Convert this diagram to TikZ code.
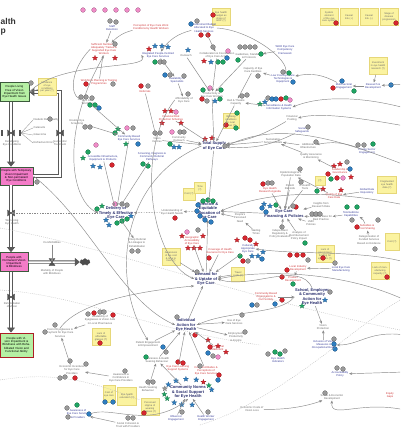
\documentclass[tikz,border=0pt]{standalone}
\usepackage{fontspec}
\setmainfont{Liberation Sans}
\usetikzlibrary{arrows.meta, positioning, shapes.geometric, shapes.symbols}
\definecolor{navy}{HTML}{2A2F6E}
\definecolor{txtgray}{HTML}{6A6A6A}
\definecolor{txtblue}{HTML}{3B419C}
\definecolor{txtred}{HTML}{D0393B}
\definecolor{cred}{HTML}{D7262E}
\definecolor{cblue}{HTML}{2E7DC0}
\definecolor{cgreen}{HTML}{1FA463}
\definecolor{cgray}{HTML}{9A9A9A}
\definecolor{cpink}{HTML}{F08CC8}
\definecolor{notefill}{HTML}{FBF3A0}
\definecolor{noteedge}{HTML}{E6D779}
\definecolor{boxgreen}{HTML}{B6F0A4}
\definecolor{boxpink}{HTML}{F47CC8}
\definecolor{stockedge}{HTML}{3C5A3C}
\definecolor{linkgray}{HTML}{8A8A8A}
\tikzset{
    ttl/.style={font=\fontsize{8.5}{9}\selectfont\bfseries, text=black!80, inner sep=0pt},
    hub/.style={font=\fontsize{4}{4.4}\selectfont\bfseries, text=navy, align=center, inner sep=0.5pt},
    lbl/.style={font=\fontsize{2.7}{3.1}\selectfont, text=txtgray, align=center, inner sep=0.5pt},
    blbl/.style={lbl, text=txtblue},
    rlbl/.style={lbl, text=txtred},
    note/.style={draw=noteedge, fill=notefill, font=\fontsize{2.5}{2.9}\selectfont, text=txtgray,
        align=center, text width=15pt, minimum width=18pt, minimum height=17pt, inner sep=0.6pt},
    stockgreen/.style={draw=stockedge, fill=boxgreen, line width=0.7pt,
        font=\fontsize{2.9}{3.3}\selectfont, align=center, inner sep=0.6pt},
    stockpink/.style={stockgreen, fill=boxpink},
    stockdone/.style={stockgreen, draw=cred!80!black, line width=0.9pt},
    link/.style={-{Stealth[length=3.2pt, width=2.6pt]}, draw=linkgray, line width=0.45pt},
    dlink/.style={link, dash pattern=on 1.3pt off 1.3pt},
    faint/.style={draw=linkgray!60, line width=0.4pt, dash pattern=on 0.8pt off 1.2pt},
    pipe/.style={draw=gray!70!black, double=white, double distance=1.5pt, line width=0.8pt,
        -{Triangle[length=5pt, width=8pt]}},
    starmk/.style={star, star points=5, star point ratio=2.3, inner sep=0pt, minimum size=5.4pt,
        draw=#1!70!black, line width=0.2pt, fill=#1},
    valve/.pic={\filldraw[fill=gray!65!black, draw=black!75, line width=0.3pt]
        (-3.5,-3) -- (-3.5,3) -- (3.5,-3) -- (3.5,3) -- cycle;},
}
\newcommand{\mkdot}[3]{\filldraw[fill=#1, draw=#1!60!black, line width=0.2pt] (#2,#3) circle (2.4);}
\newcommand{\mkstar}[3]{\node[starmk=#1] at (#2,#3) {};}

\begin{document}
\begin{tikzpicture}[x=1pt, y=-1pt]
    \useasboundingbox[fill=white] (0,0) rectangle (400,440);
    \clip (0,0) rectangle (400,440);

    % Pavadinimas ir legenda
    \node[ttl, anchor=west] (ttl1) at (0.5,21) {alth};
    \node[ttl, anchor=west] (ttl2) at (0.5,32) {p};
    \foreach \x in {83,94,...,138} {\mkdot{cpink}{\x}{10}}
    \node[note] (key1) at (329,17) {System element of the eye care system};
    \node[note] (key2) at (349,17) {Causal link (+)};
    \node[note] (key3) at (369,17) {Causal link (--)};
    \node[note] (key4) at (389,17) {Stage of disease progression};
    \mkdot{cred}{336}{23} \mkdot{cred}{396}{23}
    \node[note] (budnote) at (221,17) {Eye health budget as share of GDP (?)};
    \mkdot{cred}{213}{15}

    % Atsargos ir srautai
    \node[stockgreen, minimum width=29pt, minimum height=19pt, text width=26pt] (free) at (14.5,92)
        {People Living Free of Vision Impairment from Eye Health Issues};
    \node[stockpink, minimum width=33pt, minimum height=18pt, text width=30pt] (tempvi) at (16.5,176)
        {People with Temporary Vision Impairment \& Non-permanent Eye Conditions};
    \node[stockpink, minimum width=28pt, minimum height=19pt, text width=25pt] (permvi) at (14,262)
        {People with Permanent Vision Impairment \& Blindness};
    \node[stockdone, minimum width=33pt, minimum height=24pt, text width=30pt] (rehab) at (16.5,345)
        {People with Vision Impairment \& Blindness with Rehabilitated Vision and Functional Ability};
    \node[cloud, cloud puffs=7, fill=gray!60!black, draw=gray!60!black, minimum width=10pt,
        minimum height=7pt, inner sep=0pt] (sink) at (85,262) {};
    \coordinate (rc1) at (60,176);
    \coordinate (rc2) at (60,92);
    \coordinate (v1) at (11,133);
    \coordinate (v1r) at (60,133);
    \coordinate (v2) at (11,213);
    \coordinate (v3) at (52,262);
    \coordinate (v4) at (11,297);
    \draw[pipe] (free.south -| v1) -- (tempvi.north -| v1);
    \draw[pipe] (tempvi.east) -- (rc1) -- (rc2) -- (free.east);
    \draw[pipe] (tempvi.south -| v1) -- (permvi.north -| v1);
    \draw[pipe] (permvi.east) -- (sink.west);
    \draw[pipe] (permvi.south -| v1) -- (rehab.north -| v1);
    \foreach \v in {v1,v1r,v2,v4} {\pic at (\v) {valve};}
    \pic[rotate=90] at (v3) {valve};
    \fill[gray!65!black] (1,130) rectangle (3,136);
    \fill[gray!65!black] (19,130) rectangle (21,136);
    \node[note] (incid) at (47,87) {Incidence of eye conditions per year (?)};
    \mkdot{cgray}{31}{83}
    \node[lbl] (v1l) at (12,143) {Developing\\Eye Conditions};
    \node[lbl] (v1rl) at (60,143) {Successful\\Treatment};
    \node[lbl] (v2l) at (12,222) {Worsening\\Eye Health};
    \node[lbl] (v3l) at (52,272) {Mortality of People\\with Blindness};
    \node[lbl] (v4l) at (12,305) {Rehabilitation\\of Vision};
    \node[lbl] (comorb) at (52,243) {Co-Morbidities};
    \mkdot{cgray}{37}{182}
    \foreach \nm/\yy/\tx in {c1/120/Diabetic Retinopathy, c2/128/Cataracts, c3/135/Glaucoma, c4/143/Refractive Errors} {
        \node[lbl, anchor=west] (\nm) at (33,\yy) {\tx};
        \draw[linkgray, line width=0.3pt] (v1) ++(10,0) -- (\nm.west);
    }
    \mkdot{cgray}{50}{119}

    % Pagrindiniai mazgai
    \node[hub] (deliv) at (116,213) {Delivery of\\Timely \& Effective\\Eye Care};
    \node[hub] (supply) at (214,146) {Total Supply\\of Eye Care};
    \node[hub] (alloc) at (208,211) {Effective \&\\Equitable\\Allocation of\\Eye Care};
    \node[hub] (demand) at (206,279) {Demand for\\\& Uptake of\\Eye Care};
    \node[hub] (indiv) at (186,325) {Individual\\Action for\\Eye Health};
    \node[hub] (school) at (312,297) {School, Employer\\\& Community\\Action for\\Eye Health};
    \node[hub] (comm) at (188,392) {Community Norms\\\& Social Support\\for Eye Health};
    \node[hub] (policy) at (284,214) {Eye Care\\Financing \& Policies};

    % Darbuotojai
    \node[blbl] (retain) at (112,28) {Staff\\Retention};
    \mkdot{cgray}{110}{21} \mkdot{cgray}{116}{22}
    \node[rlbl] (perf) at (151,27) {Perception of Eye Care Work\\Conditions by Health Workers};
    \node[rlbl] (numbers) at (104,49) {Sufficient Numbers of\\Adequately Trained \&\\Supported Eye Care\\Workers};
    \mkstar{cred}{95}{58} \mkstar{cred}{115}{58} \mkdot{cgray}{115}{44}
    \node[rlbl] (plan) at (99,82) {Workforce Planning \& Training\\Programmes};
    \mkdot{cred}{86}{84} \mkdot{cgray}{113}{84}
    \node[lbl] (wf) at (88,102) {Eye Care\\Workforce};
    \mkdot{cgray}{81}{97} \mkdot{cgray}{86}{97} \mkdot{cgray}{92}{98}
    \mkdot{cgreen}{90}{105} \mkdot{cgreen}{95}{105} \mkdot{cblue}{99}{108}
    \node[lbl] (scr) at (77,122) {Routine Eye\\Screening};
    \mkdot{cgray}{85}{127} \mkdot{cgray}{90}{127}
    \node[blbl] (integ) at (129,138) {Community-Based\\Eye Care Services};
    \mkstar{cgreen}{118}{129} \mkdot{cgreen}{115}{133} \mkdot{cpink}{127}{128} \mkdot{cgray}{133}{128}
    \mkstar{cgreen}{126}{144} \mkdot{cblue}{138}{144}
    \node[blbl] (infra) at (103,158) {Accessible Infrastructure,\\Equipment \& Products};
    \mkstar{cgreen}{83}{158} \mkdot{cgreen}{88}{152} \mkdot{cpink}{96}{145}
    \mkstar{cblue}{93}{166} \mkstar{cblue}{100}{167} \mkdot{cred}{112}{165}
    \node[blbl] (screen) at (152,157) {Screening, Diagnosis \&\\Community Referral\\Pathways};
    \mkdot{cgreen}{143}{164} \mkdot{cgreen}{148}{166}

    % Pasiula
    \node[blbl] (budget) at (204,28) {Government Budget\\Allocated to Eye\\Health Services};
    \mkdot{cblue}{191}{24} \mkdot{cgray}{197}{21} \mkdot{cred}{201}{35} \mkdot{cred}{208}{35}
    \node[blbl] (qual) at (158,55) {Integrated People-Centred\\Eye Care Services};
    \mkstar{cred}{149}{49} \mkstar{cblue}{155}{46} \mkstar{cblue}{162}{46} \mkstar{cblue}{168}{47}
    \mkdot{cgreen}{155}{62} \mkdot{cgray}{160}{62} \mkdot{cgray}{164}{62}
    \node[lbl] (outr) at (186,56) {Outreach};
    \mkstar{cblue}{188}{50}
    \node[lbl] (coord) at (217,55) {Collaboration \& Coordination\\of Eye Care Actors};
    \mkstar{cred}{204}{61} \mkstar{cblue}{211}{62} \mkdot{cgreen}{218}{62} \mkdot{cgreen}{223}{62}
    \mkdot{cblue}{227}{58} \mkdot{cpink}{228}{51} \mkdot{cgray}{213}{47}
    \node[lbl] (trust) at (249,56) {Guidelines, Standards\\\& Protocols};
    \foreach \x in {240,245,250,255} {\mkdot{cgray}{\x}{47}}
    \mkdot{cgreen}{238}{60} \mkdot{cgreen}{261}{54}
    \node[lbl] (capac) at (253,70) {Capacity of Eye\\Care Facilities};
    \mkdot{cgray}{258}{76}
    \node[blbl] (avsvc) at (177,80) {Availability of\\Specialists};
    \mkdot{cblue}{165}{75} \mkdot{cgray}{170}{75} \mkdot{cgray}{184}{76}
    \node[rlbl] (refer) at (145,92) {Referrals};
    \mkdot{cred}{141}{86} \mkdot{cgray}{148}{86}
    \node[lbl] (afford) at (184,100) {Affordability of\\Eye Care};
    \mkdot{cgray}{188}{94}
    \node[lbl] (prod) at (212,95) {Productivity of\\Eye Care Workers};
    \mkdot{cgreen}{203}{90} \mkdot{cpink}{210}{88} \mkdot{cgreen}{221}{90} \mkdot{cred}{202}{99}
    \mkdot{cgray}{207}{101} \mkstar{cblue}{215}{101} \mkdot{cgreen}{220}{99}
    \node[lbl] (beds) at (236,102) {Bed \& Theatre\\Capacity};
    \mkdot{cgray}{242}{96} \mkdot{cgray}{247}{95}
    \node[rlbl] (finrisk) at (171,118) {Financial Risk\\Protection Schemes};
    \mkstar{cred}{165}{111} \mkstar{cred}{171}{111} \mkstar{cred}{162}{123} \mkstar{cred}{181}{123}
    \mkdot{cpink}{176}{112}
    \node[lbl] (vc) at (157,140) {Vision\\Centres};
    \mkdot{cgray}{155}{133} \mkdot{cgray}{160}{133}
    \node[lbl] (outreach2) at (179,139) {Community\\Outreach};
    \mkdot{cpink}{172}{132} \mkdot{cgray}{180}{132} \mkdot{cgray}{184}{132}
    \mkdot{cgreen}{170}{144} \mkstar{cblue}{174}{147} \mkstar{cblue}{179}{147}
    \mkstar{cred}{205}{139} \mkstar{cred}{212}{138} \mkdot{cgray}{225}{146}
    \node[note, minimum width=16pt, minimum height=15pt, text width=13pt] (wknote) at (231,121) {Working conditions in rural areas (?)};
    \mkdot{cred}{226}{125} \mkdot{cgreen}{237}{113} \mkdot{cgreen}{236}{128}

    % Desine virsus
    \node[blbl] (who) at (285,50) {WHO Eye Care\\Competency\\Framework};
    \node[blbl] (lowcost) at (283,79) {Low Cost Eye Care\\Technologies \&\\Equipment};
    \mkdot{cgray}{283}{72} \mkdot{cgreen}{289}{73} \mkdot{cblue}{293}{82}
    \node[blbl] (multi) at (344,86) {Multi-sectoral\\Engagement};
    \mkdot{cblue}{342}{81} \mkdot{cred}{333}{88} \mkdot{cgreen}{354}{91}
    \node[blbl] (rnd) at (373,86) {Research \&\\Development};
    \mkdot{cblue}{391}{85}
    \node[note] (rndnote) at (378,66) {Investment in eye health research (?)};
    \node[blbl] (surv) at (279,107) {Surveillance \& Health\\Information Systems};
    \mkdot{cgray}{268}{98} \mkdot{cblue}{272}{99} \mkdot{cblue}{276}{99} \mkdot{cred}{281}{99}
    \mkdot{cgreen}{286}{98} \mkdot{cpink}{290}{100} \mkstar{cblue}{265}{102} \mkstar{cgreen}{260}{104}
    \node[lbl] (pool) at (292,118) {Financial\\Pooling};
    \node[blbl] (safeg) at (302,130) {Social\\Safeguards};
    \mkdot{cgray}{308}{127}
    \node[lbl] (sust) at (273,141) {Sustainable\\Service Models};
    \node[lbl] (addfund) at (308,146) {Additional\\Infrastructure};
    \mkdot{cgray}{316}{142}
    \node[blbl] (private) at (367,151) {Private Sector\\Engagement};
    \mkdot{cgray}{358}{145} \mkdot{cgray}{364}{145} \mkdot{cgreen}{373}{144}
    \node[lbl] (qa) at (311,156) {Quality Assurance\\\& Monitoring};
    \node[rlbl] (gov) at (340,171) {Leadership \&\\Governance};
    \mkstar{cred}{334}{166} \mkstar{cred}{340}{164} \mkstar{cred}{351}{177} \mkdot{cred}{328}{174}
    \mkdot{cred}{337}{178} \mkdot{cpink}{343}{178} \mkdot{cgreen}{331}{179} \mkdot{cblue}{350}{169}
    \mkdot{cgray}{347}{162}
    \node[blbl] (gdr) at (367,191) {Global Data\\Repository};
    \node[rlbl] (datq) at (334,196) {Quality of Eye\\Care Data};
    \mkstar{cred}{323}{189} \mkstar{cred}{341}{190} \mkdot{cgreen}{317}{191}
    \node[note, minimum width=19pt, minimum height=17pt] (datnote) at (387,185) {Fragmented eye health data (?)};
    \node[lbl] (epid) at (291,174) {Epidemiological \&\\Population Data};
    \mkdot{cgray}{300}{169}
    \node[rlbl] (agenda) at (270,190) {Eye Health\\Research Agenda};
    \mkdot{cred}{263}{184} \mkdot{cgray}{268}{183} \mkdot{cgray}{272}{183}
    \node[lbl] (pple) at (290,187) {Patient\\Records};
    \node[lbl] (ehr) at (305,187) {E-Health\\Tools};
    \mkdot{cgray}{301}{182}
    \node[note, minimum width=10pt, minimum height=9pt, text width=8pt] (smnote) at (320,181) {(?)};
    \node[lbl] (insights) at (321,205) {Insights from\\Research Data};
    \mkdot{cred}{296}{207}
    \node[lbl] (evid) at (321,218) {Evidence Base for\\Best Practice};
    \mkdot{cgray}{312}{214} \mkdot{cgray}{316}{214} \mkdot{cgray}{320}{214}
    \node[blbl] (tele) at (351,214) {Telemedicine\\Capabilities};
    \mkdot{cgreen}{347}{207} \mkdot{cgreen}{357}{207} \mkdot{cgray}{352}{220}
    \mkdot{cblue}{262}{208} \mkdot{cblue}{266}{212} \mkstar{cblue}{264}{204} \mkstar{cblue}{270}{206}
    \mkdot{cgreen}{276}{205} \mkdot{cgray}{293}{206}
    \node[lbl] (indep) at (280,234) {Independent\\Regulatory \&\\Policy Evaluation};
    \mkdot{cgray}{282}{227}
    \node[lbl] (analys) at (299,236) {Analysis of\\Reimbursement\\Policy Impact};
    \mkdot{cgreen}{305}{243}
    \node[lbl] (lmic) at (311,223) {LMIC\\Policies};
    \node[rlbl] (subs) at (367,227) {Subsidies \&\\Cost Sharing};
    \mkdot{cred}{357}{227} \mkdot{cgray}{378}{220}
    \node[lbl] (categ) at (369,240) {Categorisation of\\Funded Services\\Based on Evidence};
    \mkdot{cgray}{375}{249}
    \node[note, minimum width=14pt, minimum height=17pt, text width=11pt] (edgenote) at (392,242) {Cost (?)};

    % Vietine pramone
    \node[note] (fundnote) at (325,254) {Lack of government funding for eye care (?)};
    \mkdot{cred}{323}{258}
    \mkdot{cred}{290}{255} \mkdot{cred}{297}{255} \mkdot{cred}{303}{255} \mkdot{cgray}{308}{260}
    \node[rlbl] (local) at (298,268) {Local Industry\\Development};
    \mkdot{cred}{287}{270}
    \node[blbl] (manuf) at (341,269) {Local Eye Care\\Manufacturing};
    \mkdot{cgray}{335}{263}
    \node[note] (mannote) at (380,271) {Lack of manufacturing capacity (?)};
    \mkdot{cred}{387}{277}
    \node[rlbl] (proddev) at (293,279) {Product\\Development};
    \mkdot{cred}{282}{277} \mkdot{cgreen}{293}{284}

    % Paklausa
    \node[lbl] (under) at (172,212) {Understanding of\\Eye Health Needs};
    \mkdot{cred}{175}{218}
    \node[note, minimum width=12pt, minimum height=12pt, text width=10pt] (nc1) at (189,194) {Cost (?)};
    \node[note, minimum width=11pt, minimum height=11pt, text width=9pt] (nc2) at (200,188) {Time (?)};
    \mkdot{cgreen}{203}{201} \mkdot{cgreen}{208}{200} \mkdot{cgreen}{213}{201}
    \mkdot{cblue}{198}{205} \mkdot{cblue}{197}{211} \mkdot{cblue}{200}{216} \mkdot{cblue}{205}{220} \mkdot{cblue}{211}{222}
    \node[lbl] (refl) at (137,243) {Timely Referral\\\& Linkages to\\Rehabilitation};
    \mkdot{cgray}{132}{251} \mkdot{cgray}{138}{251}
    \mkdot{cgreen}{97}{209} \mkstar{cgreen}{102}{206} \mkstar{cblue}{106}{220} \mkstar{cblue}{109}{225}
    \mkdot{cgreen}{117}{223} \mkdot{cgreen}{122}{221} \mkdot{cgreen}{127}{219} \mkstar{cblue}{131}{216}
    \mkdot{cpink}{115}{204} \mkdot{cgray}{122}{204} \mkdot{cgray}{127}{205}
    \node[rlbl] (access) at (192,241) {Geographic\\Accessibility\\of Eye Care};
    \mkstar{cred}{182}{236} \mkstar{cred}{188}{248} \mkstar{cred}{194}{248} \mkstar{cred}{200}{248}
    \mkstar{cred}{203}{236} \mkdot{cpink}{187}{232} \mkdot{cgray}{198}{230}
    \node[rlbl] (hins) at (220,251) {Coverage of Health\\Insurance for Eye Care};
    \mkdot{cred}{209}{258}
    \node[note] (awaren) at (171,257) {Awareness of the cost \& time to treat (?)};
    \node[note, minimum width=13pt, minimum height=14pt, text width=11pt] (trav) at (238,274) {Travel costs (?)};
    \node[lbl] (percv) at (240,218) {People's\\Perceived\\Need};
    \node[lbl] (wait) at (256,232) {Waiting\\Times};
    \node[blbl] (cult) at (248,249) {Culturally\\Appropriate\\Eye Care};
    \mkstar{cred}{237}{240} \mkdot{cred}{245}{238} \mkdot{cred}{250}{240} \mkstar{cred}{256}{244}
    \mkstar{cblue}{252}{256} \mkstar{cblue}{258}{256} \mkstar{cblue}{263}{252} \mkdot{cgreen}{240}{256}
    \mkdot{cred}{243}{261} \mkdot{cgray}{248}{261} \mkdot{cblue}{262}{259}
    \mkdot{cgray}{197}{272}

    % Individualus veiksmai
    \mkdot{cgray}{177}{317} \mkdot{cred}{195}{335}
    \node[lbl] (peng) at (148,344) {Patient Engagement\\\& Empowerment};
    \mkdot{cblue}{163}{347} \mkdot{cgray}{166}{352}
    \node[lbl] (aware) at (157,360) {Awareness \& Health\\Seeking Behaviour};
    \mkdot{cgreen}{146}{357}
    \node[lbl] (hsb) at (148,389) {Health Seeking\\Behaviour};
    \mkdot{cgray}{148}{382} \mkdot{cgray}{153}{382}
    \node[note] (nsb) at (150,407) {Perceived stigma of wearing glasses (?)};
    \mkdot{cred}{144}{413}
    \node[rlbl] (learn) at (178,368) {Eye Care Learning\\Support Systems};
    \mkdot{cred}{178}{362} \mkdot{cred}{183}{363}
    \node[rlbl] (attit) at (206,371) {Cultural Attitudes \&\\Perceptions of\\Eye Care Services};
    \mkdot{cred}{219}{375} \mkdot{cblue}{218}{380} \mkdot{cgray}{200}{366}
    \foreach \a/\c in {80/cblue,105/cblue,125/cblue,150/cgreen,170/cgreen,195/cgray,215/cblue,240/cblue,265/cblue,290/cblue,310/cred,330/cgreen,350/cblue} {
        \node[starmk=\c] at ([shift={(\a:24 and 13)}]comm) {};
    }
    \node[blbl] (infl) at (176,418) {Influencer\\Engagement};
    \mkdot{cgray}{182}{412}
    \node[blbl] (hwe) at (206,418) {Health Worker\\Engagement};
    \mkdot{cgray}{208}{412}
    \node[lbl] (use) at (234,322) {Use of Eye\\Care Services};
    \mkdot{cgray}{242}{315}
    \node[lbl] (empl) at (236,337) {Employment,\\Productivity\\\& Income};
    \mkdot{cgray}{245}{332}
    \node[rlbl] (edu) at (217,348) {Educational\\Attainment};
    \mkstar{cred}{208}{340} \mkstar{cred}{218}{346} \mkstar{cred}{226}{352} \mkdot{cred}{210}{347}
    \mkdot{cblue}{208}{353} \mkdot{cgray}{213}{356} \mkdot{cpink}{218}{357}
    \node[rlbl] (comm2) at (266,297) {Community-Based\\Organisations \&\\Civil Society};
    \mkdot{cblue}{252}{305} \mkdot{cgray}{257}{305} \mkdot{cred}{282}{300} \mkdot{cblue}{275}{304}
    \mkstar{cblue}{325}{300} \mkstar{cgreen}{302}{306} \mkdot{cgray}{330}{292}
    \node[lbl] (vprot) at (323,327) {Vision\\Protection};
    \node[blbl] (occ) at (324,345) {Inclusion of Vision\\Measures in\\Occupational Health};
    \mkdot{cgray}{334}{339} \mkdot{cblue}{334}{344} \mkdot{cblue}{335}{349}
    \node[blbl] (ind) at (278,360) {Eye Health\\Indicators};
    \mkdot{cgray}{268}{354} \mkdot{cgreen}{275}{352} \mkdot{cgreen}{280}{354} \mkdot{cgray}{285}{351}
    \node[blbl] (acct) at (340,374) {Accountability\\Policy};
    \mkdot{cgray}{337}{368} \mkdot{cgray}{343}{369}
    \node[lbl] (socec) at (332,397) {Social \& Economic\\Development};
    \mkdot{cgray}{325}{393}
    \node[lbl] (socdev) at (252,409) {Economic Costs of\\Vision Loss};
    \node[rlbl] (rmark) at (390,395) {Equity\\Gaps};

    % Apacia kaire
    \node[lbl] (glass) at (100,320) {Availability of\\Eyeglasses \& Vision Aids\\in Local Pharmacies};
    \mkdot{cgray}{88}{314} \mkdot{cred}{94}{313} \mkdot{cgray}{100}{312} \mkdot{cgray}{104}{312} \mkdot{cred}{113}{315}
    \node[lbl] (cvis) at (60,333) {Cost of Eyeglasses \&\\Payment for Eye Care\\Services};
    \mkdot{cgray}{45}{332} \mkdot{cgray}{55}{325}
    \node[note] (nglass) at (101,337) {Lack of affordable glasses (?)};
    \mkdot{cred}{100}{343}
    \node[lbl] (econ) at (72,370) {Economic Incentives\\for Eye Care\\Providers};
    \mkdot{cgray}{60}{378} \mkdot{cgray}{65}{377} \mkdot{cred}{75}{378} \mkdot{cgray}{86}{364} \mkdot{cgray}{70}{361}
    \node[lbl] (confid) at (121,378) {Awareness \&\\Confidence in\\Eye Care Providers};
    \mkdot{cgray}{125}{371}
    \node[note, minimum width=12pt, text width=10pt] (ncost) at (109,394) {Cost of eye care};
    \node[note, minimum width=19pt, minimum height=18pt] (nedu) at (127,396) {Eye health education (?)};
    \mkdot{cblue}{105}{402} \mkdot{cblue}{113}{402}
    \node[blbl] (awsvc) at (78,414) {Awareness of\\Eye Care Services\\\& Providers};
    \mkdot{cgreen}{77}{405} \mkdot{cblue}{89}{414} \mkdot{cgray}{67}{408} \mkdot{cgray}{68}{417}
    \node[lbl] (trustp) at (128,425) {Social Cohesion \&\\Trust with Providers};
    \mkdot{cgray}{128}{418} \mkdot{cgray}{133}{418}

    % Ryšiai tarp veiksnių
    \coordinate (e1) at (405,84);
    \coordinate (e2) at (405,108);
    \coordinate (e3) at (405,126);
    \coordinate (e4) at (405,165);
    \coordinate (e5) at (405,205);
    \coordinate (e6) at (405,262);
    \coordinate (e7) at (405,300);
    \coordinate (e8) at (405,335);
    \coordinate (e9) at (405,372);
    \coordinate (e10) at (405,410);
    \draw[link] (incid) -- (free.east);
    \draw[link] (comorb) -- (v3);
    \draw[link] (retain) -- (numbers);
    \draw[link] (perf) to[bend right=15] (numbers);
    \draw[link] (plan) -- (numbers);
    \draw[link] (numbers.west) .. controls (70,70) and (70,95) .. (wf);
    \draw[link] (wf) -- (integ);
    \draw[link] (scr) -- (integ);
    \draw[link] (integ) -- (deliv);
    \draw[link] (infra) -- (deliv);
    \draw[link] (screen) -- (deliv);
    \draw[link] (numbers.south) .. controls (60,130) and (70,200) .. (deliv.west);
    \draw[link] (budget) to[bend right=20] (qual);
    \draw[link] (budget) -- (coord);
    \draw[link] (budget.east) .. controls (250,30) and (290,60) .. (lowcost);
    \draw[link] (qual) -- (avsvc);
    \draw[link] (outr) -- (prod);
    \draw[link] (coord) -- (prod);
    \draw[link] (trust) -- (prod);
    \draw[link] (capac) -- (beds);
    \draw[link] (prod) -- (supply);
    \draw[link] (beds) -- (supply);
    \draw[link] (finrisk) -- (supply);
    \draw[link] (vc) -- (supply);
    \draw[link] (outreach2) -- (supply);
    \draw[link] (avsvc) -- (afford);
    \draw[link] (refer) -- (vc);
    \draw[link] (afford.west) .. controls (135,150) and (150,260) .. (demand.west);
    \draw[link] (who) -- (trust);
    \draw[link] (lowcost) -- (capac);
    \draw[link] (rnd) -- (multi);
    \draw[link] (rndnote) -- (rnd);
    \draw[link] (multi) to[bend right=20] (lowcost);
    \draw[link] (surv) -- (beds);
    \draw[link] (pool) to[bend left=10] (supply);
    \draw[link] (safeg) to[bend left=15] (supply);
    \draw[link] (sust) -- (supply);
    \draw[link] (addfund) -- (sust);
    \draw[link] (private) to[bend right=15] (addfund);
    \draw[link] (qa) -- (sust);
    \draw[link] (gov) -- (qa);
    \draw[link] (gdr) -- (datq);
    \draw[link] (datq) -- (epid);
    \foreach \src in {epid,agenda,pple,ehr,insights,evid,lmic,indep,analys} {
        \draw[link] (\src) -- (policy);
    }
    \draw[link] (tele) -- (evid);
    \draw[link] (subs) to[bend right=20] (tele);
    \draw[link] (categ) -- (subs);
    \draw[link] (policy) -- (alloc);
    \draw[link] (supply) -- (alloc);
    \draw[dlink] (alloc) -- (under);
    \draw[dlink] (under) -- (deliv);
    \draw[dlink] (deliv) -- (v2);
    \draw[link] (deliv) -- (refl);
    \draw[link] (demand) -- (alloc);
    \draw[link] (access) -- (demand);
    \draw[link] (hins) -- (demand);
    \draw[link] (percv) -- (alloc);
    \draw[link] (wait) -- (percv);
    \draw[link] (cult) -- (demand);
    \draw[link] (awaren) -- (demand);
    \draw[link] (trav) -- (demand);
    \draw[link] (local) -- (proddev);
    \draw[link] (manuf) -- (local);
    \draw[link] (indiv) -- (demand);
    \draw[link] (peng) -- (indiv);
    \draw[link] (aware) -- (indiv);
    \draw[link] (learn) -- (indiv);
    \draw[link] (attit) -- (indiv);
    \draw[link] (comm) -- (aware);
    \draw[link] (infl) -- (comm);
    \draw[link] (hwe) -- (comm);
    \draw[link] (hsb) -- (aware);
    \draw[link] (indiv) -- (use);
    \draw[link] (indiv) -- (empl);
    \draw[link] (edu) -- (indiv);
    \draw[link] (school.west) .. controls (280,315) and (230,310) .. (indiv.east);
    \draw[link] (school) -- (vprot);
    \draw[link] (occ) -- (vprot);
    \draw[link] (comm2) -- (school);
    \draw[link] (school.north) .. controls (300,260) and (250,290) .. (demand.east);
    \draw[link] (glass) -- (cvis);
    \draw[link] (econ) -- (cvis);
    \draw[link] (confid) -- (econ);
    \draw[link] (trustp) -- (awsvc);
    \draw[link] (cvis.north) .. controls (80,300) and (150,290) .. (demand.south west);
    \draw[link] (awsvc.east) .. controls (110,405) and (150,430) .. (comm.south);
    \draw[link] (socdev) .. controls (290,410) and (310,405) .. (socec);
    \draw[link] (tempvi.east) .. controls (90,220) and (120,300) .. (indiv.west);
    \draw[link] (free.east) .. controls (60,60) and (150,70) .. (qual.west);
    \draw[link] (supply.west) .. controls (120,180) and (110,280) .. (peng.north);
    % Iš už paveikslo
    \draw[link] (e1) -- (rnd);
    \draw[link] (e2) .. controls (360,96) and (320,96) .. (surv.east);
    \draw[link] (e3) .. controls (360,118) and (320,112) .. (pool.east);
    \draw[link] (e4) .. controls (340,140) and (280,120) .. (supply.east);
    \draw[link] (e5) .. controls (330,190) and (270,190) .. (alloc.east);
    \draw[link] (e6) .. controls (360,250) and (300,255) .. (cult.east);
    \draw[link] (e7) .. controls (340,270) and (260,270) .. (demand.east);
    \draw[link] (e8) .. controls (370,330) and (360,345) .. (occ.east);
    \draw[link] (e9) -- (acct);
    \draw[link] (e10) .. controls (360,400) and (330,420) .. (socec.south);
    % Taškuotos ilgos linijos
    \draw[faint] (0,228) .. controls (120,250) and (250,300) .. (400,330);
    \draw[faint] (0,290) .. controls (80,295) and (150,330) .. (260,345);
    \draw[faint] (0,380) .. controls (60,370) and (100,385) .. (140,400);
    \draw[faint] (200,425) .. controls (280,400) and (350,330) .. (400,300);
\end{tikzpicture}
\end{document}
